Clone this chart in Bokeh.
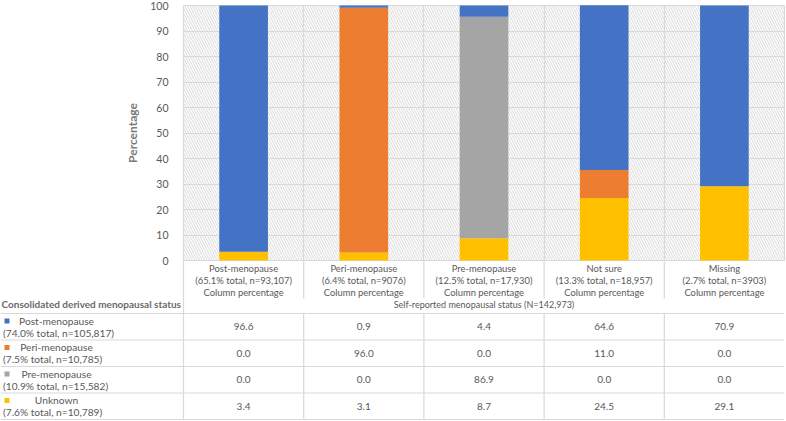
from bokeh.plotting import figure
from bokeh.models import Range1d, FixedTicker, BoxAnnotation, ColumnDataSource
from bokeh.core.properties import value
from bokeh.embed import file_html
from bokeh.resources import INLINE

# ---------------- data ----------------
categories = ["Post-menopause", "Peri-menopause", "Pre-menopause", "Not sure", "Missing"]
category_notes = ["(65.1% total, n=93,107)", "(6.4% total, n=9076)", "(12.5% total, n=17,930)",
                  "(13.3% total, n=18,957)", "(2.7% total, n=3903)"]
column_note = "Column percentage"
series_names = ["Post-menopause", "Peri-menopause", "Pre-menopause", "Unknown"]
series_notes = ["(74.0% total, n=105,817)", "(7.5% total, n=10,785)",
                "(10.9% total, n=15,582)", "(7.6% total, n=10,789)"]
post_values = [96.6, 0.9, 4.4, 64.6, 70.9]
peri_values = [0.0, 96.0, 0.0, 11.0, 0.0]
pre_values = [0.0, 0.0, 86.9, 0.0, 0.0]
unknown_values = [3.4, 3.1, 8.7, 24.5, 29.1]
series_colors = ["#4472C4", "#ED7D31", "#A5A5A5", "#FFC000"]
y_ticks = [0, 10, 20, 30, 40, 50, 60, 70, 80, 90, 100]
y_label = "Percentage"
row_title = "Consolidated derived menopausal status"
col_title = "Self-reported menopausal status (N=142,973)"

# ---------------- layout helpers ----------------
W, H = 786, 421
REF_W, REF_H = 786, 421
X0_REF, COL_REF = 183.0, 120.2
Y0_REF, Y100_REF = 260.0, 5.0
UNIT_Y = (Y0_REF - Y100_REF) / 100.0


def dx(ref):
    return (ref - X0_REF) / COL_REF


def dy(ref):
    return (Y0_REF - ref) / UNIT_Y


FONT = value("Lato")
TXT = "#595959"
GRID = "#d9d9d9"
n = len(categories)

p = figure(width=W, height=H, output_backend="svg", toolbar_location=None,
           x_range=Range1d(dx(0), dx(REF_W)), y_range=Range1d(dy(REF_H), dy(0)),
           min_border=0, min_border_left=0, min_border_right=0,
           min_border_top=0, min_border_bottom=0)
p.outline_line_color = None
p.background_fill_color = "white"
p.border_fill_color = "white"
p.xaxis.visible = False

yax = p.yaxis[0]
yax.fixed_location = 0
yax.bounds = (0, 100)
yax.ticker = FixedTicker(ticks=y_ticks)
yax.minor_tick_line_color = None
yax.major_tick_line_color = None
yax.axis_line_color = None
yax.major_label_text_font = "Lato"
yax.major_label_text_font_size = "10.5px"
yax.major_label_text_color = TXT
yax.major_label_standoff = 9
yax.axis_label = y_label
yax.axis_label_text_font = "Lato"
yax.axis_label_text_font_style = "bold"
yax.axis_label_text_font_size = "12px"
yax.axis_label_text_color = "#7a7a7a"
yax.axis_label_standoff = 7

p.ygrid.ticker = FixedTicker(ticks=y_ticks)
p.ygrid.cross_bounds = (0, n)
p.ygrid.grid_line_color = GRID
p.ygrid.grid_line_width = 1.2
p.xgrid.ticker = FixedTicker(ticks=list(range(n + 1)))
p.xgrid.cross_bounds = (0, 100)
p.xgrid.grid_line_color = GRID
p.xgrid.grid_line_width = 1.2

# hatched chart background
bg = BoxAnnotation(left=0, right=n, bottom=0, top=100, fill_color="white", fill_alpha=1,
                   line_color=None, hatch_pattern="\\", hatch_color="#cfcfcf",
                   hatch_scale=5, hatch_weight=0.8, level="image")
p.add_layout(bg)

# stacked bars
src = ColumnDataSource(dict(x=[i + 0.5 for i in range(n)], unknown=unknown_values,
                            pre=pre_values, peri=peri_values, post=post_values))
p.vbar_stack(["unknown", "pre", "peri", "post"], x="x", width=0.405, source=src,
             color=[series_colors[3], series_colors[2], series_colors[1], series_colors[0]],
             line_color=None)

# ---------------- table ----------------
FS_HEAD = "9.4px"
FS_ROW = "10.2px"
# column headers
hx, hy, ht = [], [], []
for i, (c, note) in enumerate(zip(categories, category_notes)):
    for line, yref in zip([c, note, column_note], [267.5, 279.5, 291.5]):
        hx.append(i + 0.5)
        hy.append(dy(yref))
        ht.append(line)
p.text(x=hx, y=hy, text=ht, text_align="center", text_baseline="middle",
       text_font=FONT, text_font_size=FS_HEAD, text_color=TXT)

p.text(x=[n / 2.0], y=[dy(303.5)], text=[col_title], text_align="center",
       text_baseline="middle", text_font=FONT, text_font_size="9px", text_color=TXT)
p.text(x=[dx(1)], y=[dy(303.5)], text=[row_title], text_align="left",
       text_baseline="middle", text_font=FONT, text_font_size="10px",
       text_font_style="bold", text_color="#6a6a6a")

# rows
row_top = 313.0
row_h = 26.5
series_values = [post_values, peri_values, pre_values, unknown_values]
vx, vy, vt = [], [], []
for r, (name, note, vals, col) in enumerate(zip(series_names, series_notes, series_values, series_colors)):
    cy = row_top + row_h * (r + 0.5)
    p.scatter(x=[dx(6.5)], y=[dy(cy - 5.8)], marker="square", size=5, color=col, line_color=None)
    p.text(x=[dx(56)], y=[dy(cy - 5.8)], text=[name], text_align="center", text_baseline="middle",
           text_font=FONT, text_font_size=FS_ROW, text_color=TXT)
    p.text(x=[dx(2.5)], y=[dy(cy + 5.8)], text=[note], text_align="left", text_baseline="middle",
           text_font=FONT, text_font_size=FS_ROW, text_color=TXT)
    for c in range(n):
        vx.append(c + 0.5)
        vy.append(dy(cy))
        vt.append(f"{vals[c]:.1f}")
p.text(x=vx, y=vy, text=vt, text_align="center", text_baseline="middle",
       text_font=FONT, text_font_size="10px", text_color=TXT)

# table lines
hl_y = [dy(row_top + row_h * k) for k in range(5)]
p.segment(x0=[dx(0)] * 5, y0=hl_y, x1=[n] * 5, y1=hl_y, line_color=GRID, line_width=1.2)
vx0, vy0, vx1, vy1 = [0], [0], [0], [dy(row_top + row_h * 4)]
for k in range(1, n):
    vx0 += [k, k]
    vx1 += [k, k]
    vy0 += [0, dy(row_top)]
    vy1 += [dy(298), dy(row_top + row_h * 4)]
p.segment(x0=vx0, y0=vy0, x1=vx1, y1=vy1, line_color=GRID, line_width=1.2)

open("out.html", "w").write(file_html(p, INLINE))
